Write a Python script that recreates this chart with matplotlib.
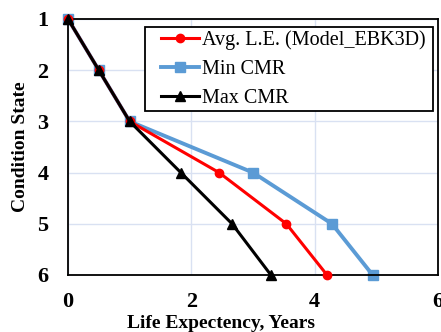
import matplotlib
matplotlib.use("Agg")
import matplotlib.pyplot as plt
from matplotlib.patches import Rectangle

states = [1, 2, 3, 4, 5, 6]
avg_le = [0, 0.5, 1.0, 2.45, 3.54, 4.2]
min_cmr = [0, 0.5, 1.0, 3.0, 4.28, 4.94]
max_cmr = [0, 0.5, 1.0, 1.83, 2.66, 3.29]
xticks = [0, 2, 4, 6]

plt.rcParams['font.family'] = ['Liberation Serif', 'DejaVu Serif']

fig = plt.figure(figsize=(4.41, 3.32), dpi=100)
ax = fig.add_axes([0.1542, 0.1717, 0.8390, 0.7711])

ax.plot(avg_le, states, color='#FF0000', lw=2.2, marker='o', ms=6, label='Avg. L.E. (Model_EBK3D)', zorder=3, clip_on=False)
ax.plot(min_cmr, states, color='#5B9BD5', lw=2.8, marker='s', ms=7, label='Min CMR', zorder=2, clip_on=False)
ax.plot(max_cmr, states, color='#000000', lw=2.2, marker='^', ms=6.5, label='Max CMR', zorder=4, clip_on=False)

ax.set_xlim(0, 6)
ax.set_ylim(6, 1)
ax.set_xticks(xticks)
ax.set_yticks(states)
ax.grid(True, color='#D9E1F2', lw=1)
ax.set_axisbelow(True)
ax.tick_params(length=0, labelsize=16)
ax.tick_params(axis='y', pad=14)
ax.tick_params(axis='x', pad=12)
for t in ax.get_xticklabels() + ax.get_yticklabels():
    t.set_fontweight('bold')
for s in ax.spines.values():
    s.set_color('black')
    s.set_linewidth(1.3)

ax.set_xlabel('Life Expectency, Years', fontsize=14, fontweight='bold')
ax.xaxis.set_label_coords(0.414, -0.155)
ax.set_ylabel('Condition State', fontsize=14, fontweight='bold', labelpad=6)

# legend frame
frame = Rectangle((0.208, 0.641), 0.778, 0.328, transform=ax.transAxes,
                  facecolor='white', edgecolor='black', lw=1.3, zorder=4.8, clip_on=False)
ax.add_patch(frame)

leg = ax.legend(loc='upper left', fontsize=14.5, frameon=False,
                borderpad=0, labelspacing=0.48, handlelength=1.9, handletextpad=0.15,
                borderaxespad=0, bbox_to_anchor=(0.251, 0.955))
leg.set_zorder(5)

fig.savefig('out.png', dpi=100)
